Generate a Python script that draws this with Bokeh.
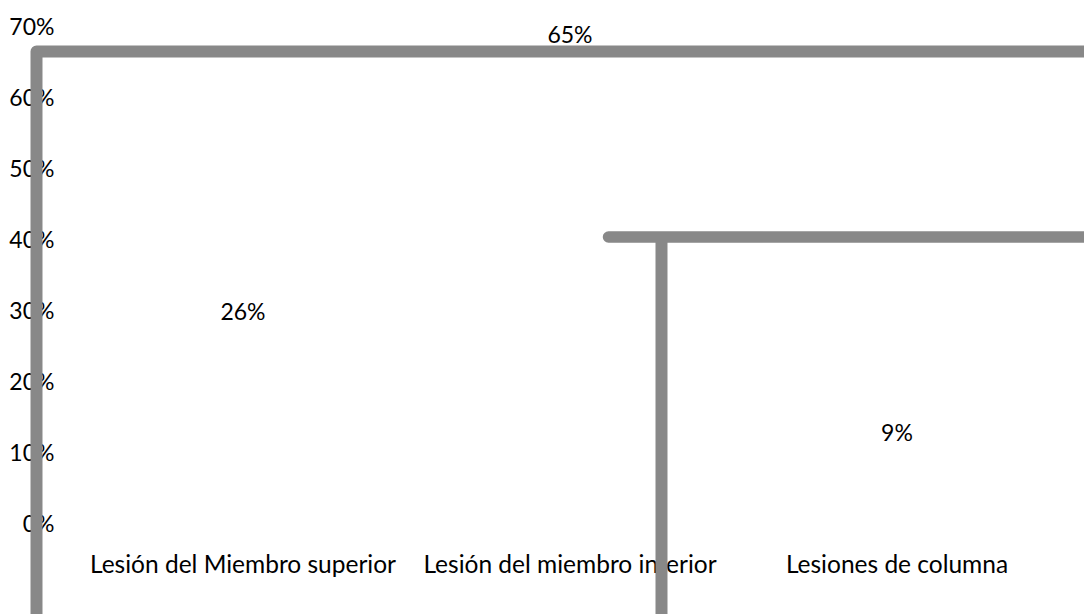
from bokeh.plotting import figure
from bokeh.models import ColumnDataSource, Range1d
from bokeh.core.properties import value
from bokeh.embed import file_html
from bokeh.resources import INLINE

# Injury type shares
categories = ["Lesión del Miembro superior", "Lesión del miembro inferior", "Lesiones de columna"]
shares = [26, 65, 9]
value_labels = ["26%", "65%", "9%"]

# Percent axis ticks
tick_values = [0, 10, 20, 30, 40, 50, 60, 70]
tick_labels = ["0%", "10%", "20%", "30%", "40%", "50%", "60%", "70%"]

# Grey connector strokes, in chart units (category index, percent)
bracket_a_x = [-0.6315, -0.6315, 2.60]
bracket_a_y = [-14.0, 66.4, 66.4]
bracket_b_x = [1.1177, 2.60]
bracket_b_y = [40.28, 40.28]
stem_b_x = [1.2798, 1.2798]
stem_b_y = [40.28, -14.0]

FONT = value("Lato")
NUM_SIZE = "23px"
CAT_SIZE = "24.5px"
INK = "#000000"
STROKE = "#888888"

p = figure(width=1084, height=614, output_backend="svg", toolbar_location=None,
           x_range=Range1d(-0.7416, 2.5734), y_range=Range1d(-12.89, 73.59),
           min_border=0, outline_line_color=None, background_fill_color="white",
           border_fill_color="white")
p.axis.visible = False
p.grid.visible = False

n = len(categories)
xs = list(range(n))

# percent tick labels down the left side
tick_src = ColumnDataSource(dict(x=[-0.5765] * len(tick_values), y=tick_values, t=tick_labels))
p.text(x="x", y="y", text="t", source=tick_src, text_font=FONT, text_font_size=NUM_SIZE,
       text_color=INK, text_align="right", text_baseline="middle")

# value labels sitting above each share
val_src = ColumnDataSource(dict(x=xs, y=shares, t=value_labels))
p.text(x="x", y="y", text="t", source=val_src, text_font=FONT, text_font_size=NUM_SIZE,
       text_color=INK, text_align="center", text_baseline="middle", y_offset=-27)

# category names under the baseline
cat_src = ColumnDataSource(dict(x=xs, y=[0] * n, t=categories))
p.text(x="x", y="y", text="t", source=cat_src, text_font=FONT, text_font_size=CAT_SIZE,
       text_color=INK, text_align="center", text_baseline="middle", y_offset=41)

# grey strokes drawn over the labels
p.line(bracket_a_x, bracket_a_y, line_color=STROKE, line_width=12,
       line_join="round", line_cap="round")
p.line(bracket_b_x, bracket_b_y, line_color=STROKE, line_width=11.5,
       line_join="round", line_cap="round")
p.line(stem_b_x, stem_b_y, line_color=STROKE, line_width=12, line_cap="butt")

open("out.html", "w").write(file_html(p, INLINE))
